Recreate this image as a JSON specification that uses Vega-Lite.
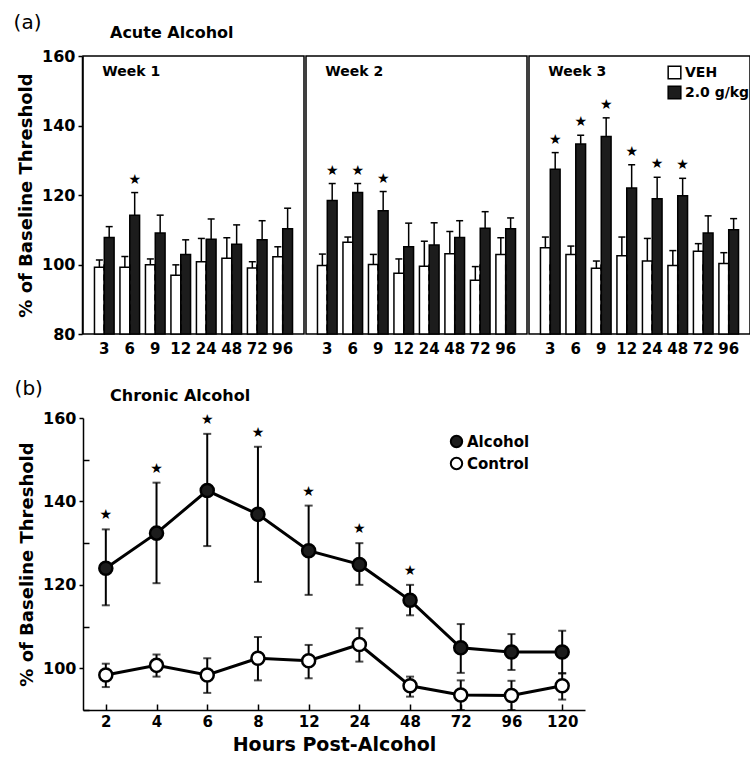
{
  "$schema": "https://vega.github.io/schema/vega-lite/v6.json",
  "padding": {"left": 13, "top": 13, "right": 0, "bottom": 5},
  "background": "white",
  "config": {
    "font": "DejaVu Sans",
    "axis": {"domainColor": "black", "domainWidth": 1.5, "tickColor": "black", "tickWidth": 1.5, "labelColor": "black", "labelFont": "DejaVu Sans", "labelFontWeight": "bold", "titleColor": "black", "titleFont": "DejaVu Sans", "titleFontWeight": "bold", "grid": false},
    "legend": {"labelFont": "DejaVu Sans", "labelFontWeight": "bold", "labelColor": "black", "labelFontSize": 14, "symbolStrokeColor": "black", "symbolOpacity": 1, "padding": 0, "rowPadding": 1, "labelOffset": 3},
    "title": {"color": "black", "font": "DejaVu Sans"}
  },
  "datasets": {
    "acute": [
      {"week": "Week 1", "hour": 3, "group": "VEH", "mean": 99.2, "upper": 101.3, "sig": false},
      {"week": "Week 1", "hour": 3, "group": "2.0 g/kg", "mean": 107.8, "upper": 110.9, "sig": false},
      {"week": "Week 1", "hour": 6, "group": "VEH", "mean": 99.2, "upper": 102.3, "sig": false},
      {"week": "Week 1", "hour": 6, "group": "2.0 g/kg", "mean": 114.2, "upper": 120.7, "sig": true},
      {"week": "Week 1", "hour": 9, "group": "VEH", "mean": 99.9, "upper": 101.6, "sig": false},
      {"week": "Week 1", "hour": 9, "group": "2.0 g/kg", "mean": 109.1, "upper": 114.2, "sig": false},
      {"week": "Week 1", "hour": 12, "group": "VEH", "mean": 96.9, "upper": 99.9, "sig": false},
      {"week": "Week 1", "hour": 12, "group": "2.0 g/kg", "mean": 102.9, "upper": 107.1, "sig": false},
      {"week": "Week 1", "hour": 24, "group": "VEH", "mean": 100.8, "upper": 107.5, "sig": false},
      {"week": "Week 1", "hour": 24, "group": "2.0 g/kg", "mean": 107.3, "upper": 113.1, "sig": false},
      {"week": "Week 1", "hour": 48, "group": "VEH", "mean": 101.8, "upper": 107.7, "sig": false},
      {"week": "Week 1", "hour": 48, "group": "2.0 g/kg", "mean": 105.8, "upper": 111.4, "sig": false},
      {"week": "Week 1", "hour": 72, "group": "VEH", "mean": 99.0, "upper": 100.8, "sig": false},
      {"week": "Week 1", "hour": 72, "group": "2.0 g/kg", "mean": 107.1, "upper": 112.6, "sig": false},
      {"week": "Week 1", "hour": 96, "group": "VEH", "mean": 102.2, "upper": 105.1, "sig": false},
      {"week": "Week 1", "hour": 96, "group": "2.0 g/kg", "mean": 110.3, "upper": 116.2, "sig": false},
      {"week": "Week 2", "hour": 3, "group": "VEH", "mean": 99.7, "upper": 103.0, "sig": false},
      {"week": "Week 2", "hour": 3, "group": "2.0 g/kg", "mean": 118.4, "upper": 123.3, "sig": true},
      {"week": "Week 2", "hour": 6, "group": "VEH", "mean": 106.4, "upper": 107.9, "sig": false},
      {"week": "Week 2", "hour": 6, "group": "2.0 g/kg", "mean": 120.7, "upper": 123.3, "sig": true},
      {"week": "Week 2", "hour": 9, "group": "VEH", "mean": 100.0, "upper": 102.9, "sig": false},
      {"week": "Week 2", "hour": 9, "group": "2.0 g/kg", "mean": 115.5, "upper": 121.0, "sig": true},
      {"week": "Week 2", "hour": 12, "group": "VEH", "mean": 97.5, "upper": 101.6, "sig": false},
      {"week": "Week 2", "hour": 12, "group": "2.0 g/kg", "mean": 105.1, "upper": 111.9, "sig": false},
      {"week": "Week 2", "hour": 24, "group": "VEH", "mean": 99.5, "upper": 106.7, "sig": false},
      {"week": "Week 2", "hour": 24, "group": "2.0 g/kg", "mean": 105.6, "upper": 112.0, "sig": false},
      {"week": "Week 2", "hour": 48, "group": "VEH", "mean": 103.1, "upper": 109.5, "sig": false},
      {"week": "Week 2", "hour": 48, "group": "2.0 g/kg", "mean": 107.8, "upper": 112.6, "sig": false},
      {"week": "Week 2", "hour": 72, "group": "VEH", "mean": 95.5, "upper": 99.4, "sig": false},
      {"week": "Week 2", "hour": 72, "group": "2.0 g/kg", "mean": 110.4, "upper": 115.2, "sig": false},
      {"week": "Week 2", "hour": 96, "group": "VEH", "mean": 102.9, "upper": 107.7, "sig": false},
      {"week": "Week 2", "hour": 96, "group": "2.0 g/kg", "mean": 110.3, "upper": 113.4, "sig": false},
      {"week": "Week 3", "hour": 3, "group": "VEH", "mean": 104.8, "upper": 107.9, "sig": false},
      {"week": "Week 3", "hour": 3, "group": "2.0 g/kg", "mean": 127.4, "upper": 132.2, "sig": true},
      {"week": "Week 3", "hour": 6, "group": "VEH", "mean": 102.9, "upper": 105.3, "sig": false},
      {"week": "Week 3", "hour": 6, "group": "2.0 g/kg", "mean": 134.7, "upper": 137.2, "sig": true},
      {"week": "Week 3", "hour": 9, "group": "VEH", "mean": 98.9, "upper": 101.0, "sig": false},
      {"week": "Week 3", "hour": 9, "group": "2.0 g/kg", "mean": 136.8, "upper": 142.2, "sig": true},
      {"week": "Week 3", "hour": 12, "group": "VEH", "mean": 102.5, "upper": 107.9, "sig": false},
      {"week": "Week 3", "hour": 12, "group": "2.0 g/kg", "mean": 122.0, "upper": 128.7, "sig": true},
      {"week": "Week 3", "hour": 24, "group": "VEH", "mean": 101.0, "upper": 107.5, "sig": false},
      {"week": "Week 3", "hour": 24, "group": "2.0 g/kg", "mean": 118.9, "upper": 125.1, "sig": true},
      {"week": "Week 3", "hour": 48, "group": "VEH", "mean": 99.7, "upper": 104.0, "sig": false},
      {"week": "Week 3", "hour": 48, "group": "2.0 g/kg", "mean": 119.8, "upper": 124.8, "sig": true},
      {"week": "Week 3", "hour": 72, "group": "VEH", "mean": 103.8, "upper": 106.0, "sig": false},
      {"week": "Week 3", "hour": 72, "group": "2.0 g/kg", "mean": 109.1, "upper": 114.0, "sig": false},
      {"week": "Week 3", "hour": 96, "group": "VEH", "mean": 100.3, "upper": 103.4, "sig": false},
      {"week": "Week 3", "hour": 96, "group": "2.0 g/kg", "mean": 110.0, "upper": 113.2, "sig": false}
    ],
    "chronic": [
      {"hour": 2, "group": "Alcohol", "mean": 124.0, "lower": 115.1, "upper": 133.3, "sig": true},
      {"hour": 4, "group": "Alcohol", "mean": 132.4, "lower": 120.4, "upper": 144.5, "sig": true},
      {"hour": 6, "group": "Alcohol", "mean": 142.6, "lower": 129.3, "upper": 156.2, "sig": true},
      {"hour": 8, "group": "Alcohol", "mean": 136.9, "lower": 120.7, "upper": 153.1, "sig": true},
      {"hour": 12, "group": "Alcohol", "mean": 128.2, "lower": 117.6, "upper": 139.0, "sig": true},
      {"hour": 24, "group": "Alcohol", "mean": 124.9, "lower": 120.0, "upper": 130.0, "sig": true},
      {"hour": 48, "group": "Alcohol", "mean": 116.3, "lower": 112.7, "upper": 120.0, "sig": true},
      {"hour": 72, "group": "Alcohol", "mean": 104.9, "lower": 98.9, "upper": 110.6, "sig": false},
      {"hour": 96, "group": "Alcohol", "mean": 103.9, "lower": 99.6, "upper": 108.2, "sig": false},
      {"hour": 120, "group": "Alcohol", "mean": 103.9, "lower": 98.8, "upper": 109.0, "sig": false},
      {"hour": 2, "group": "Control", "mean": 98.4, "lower": 95.5, "upper": 101.1, "sig": false},
      {"hour": 4, "group": "Control", "mean": 100.7, "lower": 98.0, "upper": 103.3, "sig": false},
      {"hour": 6, "group": "Control", "mean": 98.4, "lower": 94.1, "upper": 102.4, "sig": false},
      {"hour": 8, "group": "Control", "mean": 102.4, "lower": 97.1, "upper": 107.5, "sig": false},
      {"hour": 12, "group": "Control", "mean": 101.8, "lower": 97.6, "upper": 105.6, "sig": false},
      {"hour": 24, "group": "Control", "mean": 105.7, "lower": 101.6, "upper": 109.6, "sig": false},
      {"hour": 48, "group": "Control", "mean": 95.8, "lower": 93.2, "upper": 98.0, "sig": false},
      {"hour": 72, "group": "Control", "mean": 93.6, "lower": 90.0, "upper": 97.1, "sig": false},
      {"hour": 96, "group": "Control", "mean": 93.5, "lower": 90.0, "upper": 97.0, "sig": false},
      {"hour": 120, "group": "Control", "mean": 95.8, "lower": 92.5, "upper": 98.8, "sig": false}
    ]
  },
  "vconcat": [
    {
      "title": {"text": "(a)", "anchor": "start", "frame": "bounds", "fontSize": 20, "fontWeight": "normal", "offset": -8, "dx": -4},
      "vconcat": [
        {
          "data": {"name": "acute"},
          "title": {"text": "Acute Alcohol", "anchor": "start", "frame": "group", "fontSize": 16, "fontWeight": "bold", "dx": 27, "offset": 7},
          "facet": {"column": {"field": "week", "type": "nominal", "header": {"title": null, "labels": false}}},
          "spacing": 0,
          "spec": {
            "width": 221,
            "height": 278,
            "view": {"stroke": "black", "strokeWidth": 1.5},
            "encoding": {
              "x": {"field": "hour", "type": "ordinal", "scale": {"paddingInner": 0.23, "paddingOuter": 0.45},
                    "axis": {"title": null, "ticks": false, "domain": false, "labelAngle": 0, "labelFontSize": 15, "labelPadding": 5}}
            },
            "layer": [
              {
                "mark": {"type": "bar", "stroke": "black", "strokeWidth": 1.5},
                "encoding": {
                  "y": {"field": "mean", "type": "quantitative", "scale": {"domain": [80, 160], "zero": false, "nice": false},
                        "axis": {"title": "% of Baseline Threshold", "titleFontSize": 18, "titlePadding": 6, "labelFontSize": 16, "labelPadding": 3,
                                 "values": [80, 90, 100, 110, 120, 130, 140, 150, 160],
                                 "labelExpr": "datum.value % 20 == 0 ? datum.label : ''",
                                 "tickSize": {"condition": {"test": "datum.value % 20 == 0", "value": 4}, "value": -6}}},
                  "y2": {"datum": 80},
                  "xOffset": {"field": "group", "type": "nominal", "sort": ["VEH", "2.0 g/kg"], "scale": {"paddingInner": 0}},
                  "fill": {"field": "group", "type": "nominal", "sort": ["VEH", "2.0 g/kg"],
                           "scale": {"domain": ["VEH", "2.0 g/kg"], "range": ["white", "#1c1c1c"]},
                           "legend": {"title": null, "orient": "none", "legendX": 584, "legendY": 9, "symbolType": "square", "symbolSize": 160, "symbolStrokeWidth": 1.5}}
                }
              },
              {
                "mark": {"type": "rule", "color": "black", "strokeWidth": 1.5},
                "encoding": {
                  "y": {"field": "mean", "type": "quantitative", "title": "% of Baseline Threshold"},
                  "y2": {"field": "upper"},
                  "xOffset": {"field": "group", "type": "nominal", "sort": ["VEH", "2.0 g/kg"]}
                }
              },
              {
                "mark": {"type": "tick", "color": "black", "thickness": 1.5, "size": 7, "opacity": 1},
                "encoding": {
                  "y": {"field": "upper", "type": "quantitative", "title": "% of Baseline Threshold"},
                  "xOffset": {"field": "group", "type": "nominal", "sort": ["VEH", "2.0 g/kg"]}
                }
              },
              {
                "transform": [{"filter": "datum.sig"}],
                "mark": {"type": "text", "text": "★", "fontSize": 14, "color": "black", "dy": -13, "baseline": "middle"},
                "encoding": {
                  "y": {"field": "upper", "type": "quantitative", "title": "% of Baseline Threshold"},
                  "xOffset": {"field": "group", "type": "nominal", "sort": ["VEH", "2.0 g/kg"]}
                }
              },
              {
                "mark": {"type": "rule", "color": "black", "strokeWidth": 1.5, "strokeDash": [6, 4]},
                "encoding": {"y": {"datum": 100, "type": "quantitative"}}
              },
              {
                "transform": [{"filter": "datum.hour == 3 && datum.group == 'VEH'"}],
                "mark": {"type": "text", "align": "left", "baseline": "middle", "fontSize": 14, "fontWeight": "bold", "color": "black", "dx": -2},
                "encoding": {
                  "y": {"datum": 155.5, "type": "quantitative"},
                  "text": {"field": "week"}
                }
              }
            ]
          }
        }
      ]
    },
    {
      "title": {"text": "(b)", "anchor": "start", "frame": "bounds", "fontSize": 20, "fontWeight": "normal", "offset": -11, "dx": -4},
      "vconcat": [
        {
          "data": {"name": "chronic"},
          "title": {"text": "Chronic Alcohol", "anchor": "start", "frame": "group", "fontSize": 16, "fontWeight": "bold", "dx": 27, "offset": 6},
          "width": 502,
          "height": 292,
          "view": {"stroke": null},
          "encoding": {
            "x": {"field": "hour", "type": "ordinal", "scale": {"type": "point", "padding": 0.45},
                  "axis": {"title": "Hours Post-Alcohol", "titleFontSize": 19, "titlePadding": 6, "labelAngle": 0, "labelFontSize": 15, "tickSize": -6, "labelPadding": 10}}
          },
          "layer": [
            {
              "mark": {"type": "errorbar", "rule": {"color": "black", "strokeWidth": 2}, "ticks": {"color": "black", "size": 8, "thickness": 2}},
              "encoding": {
                "y": {"field": "lower", "type": "quantitative", "title": "% of Baseline Threshold"},
                "y2": {"field": "upper"},
                "detail": {"field": "group"}
              }
            },
            {
              "mark": {"type": "line", "color": "black", "strokeWidth": 3},
              "encoding": {
                "y": {"field": "mean", "type": "quantitative", "scale": {"domain": [90, 160], "zero": false, "nice": false},
                      "axis": {"title": "% of Baseline Threshold", "titleFontSize": 18, "titlePadding": 6, "labelFontSize": 16, "labelPadding": 3,
                               "values": [90, 100, 110, 120, 130, 140, 150, 160],
                               "labelExpr": "datum.value % 20 == 0 ? datum.label : ''",
                               "tickSize": {"condition": {"test": "datum.value % 20 == 0", "value": 4}, "value": -6}}},
                "detail": {"field": "group"}
              }
            },
            {
              "mark": {"type": "point", "shape": "circle", "size": 170, "filled": true, "stroke": "black", "strokeWidth": 2.5, "opacity": 1},
              "encoding": {
                "y": {"field": "mean", "type": "quantitative", "title": "% of Baseline Threshold"},
                "fill": {"field": "group", "type": "nominal", "scale": {"domain": ["Alcohol", "Control"], "range": ["#1c1c1c", "white"]},
                         "legend": {"title": null, "orient": "none", "legendX": 366, "legendY": 16, "symbolType": "circle", "symbolSize": 130, "symbolStrokeWidth": 2, "labelFontSize": 15}}
              }
            },
            {
              "transform": [{"filter": "datum.sig"}],
              "mark": {"type": "text", "text": "★", "fontSize": 14, "color": "black", "dy": -14, "baseline": "middle"},
              "encoding": {
                "y": {"field": "upper", "type": "quantitative", "title": "% of Baseline Threshold"}
              }
            }
          ]
        }
      ]
    }
  ],
  "spacing": 23,
  "resolve": {"scale": {"x": "independent", "y": "independent", "fill": "independent"}}
}
